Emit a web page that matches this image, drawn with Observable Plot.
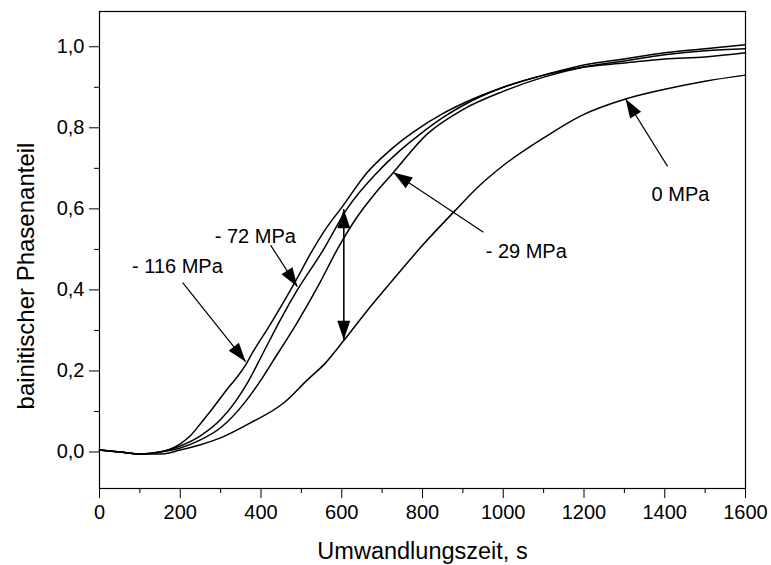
<!DOCTYPE html>
<html>
<head>
<meta charset="utf-8">
<script src="https://cdn.jsdelivr.net/npm/d3@7"></script>
<script src="https://cdn.jsdelivr.net/npm/@observablehq/plot@0.6"></script>
<style>
  html, body { margin: 0; padding: 0; background: #fff; }
</style>
</head>
<body>
<div id="chart"></div>
<script>
// ---- data ----
const t116 = [0,50,100,150,200,225,250,282,320,341,362,379,420,450,490,523,560,601,663,720,778,850,900,1000,1100,1200,1300,1400,1500,1600];
const v116 = [0.005,0,-0.005,0,0.02,0.04,0.07,0.11,0.16,0.185,0.215,0.245,0.31,0.36,0.43,0.49,0.55,0.605,0.69,0.745,0.79,0.835,0.86,0.9,0.93,0.95,0.96,0.97,0.975,0.985];

const t72 = [0,50,100,150,200,250,300,337,369,403,450,490,552,613,688,740,795,850,900,1000,1100,1200,1300,1400,1500,1600];
const v72 = [0.005,0,-0.005,0,0.015,0.04,0.08,0.125,0.175,0.24,0.33,0.40,0.495,0.6,0.69,0.74,0.785,0.825,0.855,0.9,0.93,0.955,0.97,0.985,0.995,1.005];

const t29 = [0,50,100,150,200,250,300,362,398,430,490,547,589,638,680,728,812,900,1000,1100,1200,1300,1400,1500,1600];
const v29 = [0.005,0,-0.005,0,0.01,0.03,0.06,0.125,0.175,0.225,0.32,0.42,0.50,0.58,0.635,0.69,0.785,0.845,0.89,0.925,0.95,0.965,0.98,0.99,0.995];

const t0 = [0,50,100,150,200,250,300,374,456,515,560,605,660,721,800,880,944,1000,1100,1191,1303,1400,1500,1600];
const v0 = [0.005,0,-0.005,-0.005,0.005,0.018,0.035,0.072,0.121,0.178,0.22,0.275,0.345,0.418,0.51,0.595,0.66,0.707,0.775,0.829,0.871,0.895,0.915,0.93];

// annotations
const annText   = ["- 116 MPa", "- 72 MPa", "- 29 MPa", "0 MPa"];
const annTextT  = [193, 386, 1057, 1439];
const annTextV  = [0.458, 0.532, 0.495, 0.636];
const arrStartT = [206, 424, 951, 1407];
const arrStartV = [0.418, 0.51, 0.542, 0.705];
const arrTipT   = [362, 490, 728, 1303];
const arrTipV   = [0.223, 0.408, 0.69, 0.871];
// vertical double arrow
const dblT = 605;
const dblTop = 0.599;
const dblBottom = 0.277;

// tick values
const xMajor = d3.range(0, 1601, 200);
const xMinor = d3.range(100, 1600, 200);
const yMajor = [0, 0.2, 0.4, 0.6, 0.8, 1.0];
const yMinor = [0.1, 0.3, 0.5, 0.7, 0.9];

// ---- layout ----
const W = 771, H = 565;
const mL = 99, mR = 26, mT = 11, mB = 77;
const xDomain = [0, 1600], yDomain = [-0.09, 1.087];
const kx = (W - mL - mR) / (xDomain[1] - xDomain[0]);
const ky = (H - mT - mB) / (yDomain[1] - yDomain[0]);

const toRows = (ts, vs, name) => ts.map((t, i) => ({t, v: vs[i], s: name}));
const curves = [
  ...toRows(t116, v116, "-116"),
  ...toRows(t72, v72, "-72"),
  ...toRows(t29, v29, "-29"),
  ...toRows(t0, v0, "0")
];

const arrows = annText.map((s, i) => ({
  x1: arrStartT[i], y1: arrStartV[i], x2: arrTipT[i], y2: arrTipV[i]
}));
arrows.push({x1: dblT, y1: dblBottom, x2: dblT, y2: dblTop});
arrows.push({x1: dblT, y1: dblTop, x2: dblT, y2: dblBottom});
const heads = arrows.map(a => {
  const sdx = (a.x2 - a.x1) * kx;
  const sdy = -(a.y2 - a.y1) * ky;
  return {x: a.x2, y: a.y2, r: Math.atan2(sdx, -sdy) * 180 / Math.PI};
});
const headSymbol = {
  draw(ctx) {
    ctx.moveTo(0, 0);
    ctx.lineTo(-6.5, 19);
    ctx.lineTo(6.5, 19);
    ctx.closePath();
  }
};
const labels = annText.map((s, i) => ({s, x: annTextT[i], y: annTextV[i]}));

const fmt = d => d3.format(".1f")(d).replace(".", ",");

const chart = Plot.plot({
  width: W, height: H,
  marginLeft: mL, marginRight: mR, marginTop: mT, marginBottom: mB,
  x: {domain: xDomain},
  y: {domain: yDomain},
  style: {fontFamily: "'Liberation Sans', Arial, sans-serif", fontSize: "20px", background: "#fff", color: "#000"},
  marks: [
    Plot.axisX(xMajor, {tickSize: 10, tickPadding: 6, tickFormat: d => String(d), label: null, fontSize: 20}),
    Plot.axisX(xMinor, {tickSize: 5, tickFormat: () => "", label: null}),
    Plot.axisY(yMajor, {tickSize: 10, tickPadding: 5, tickFormat: fmt, label: null, fontSize: 20}),
    Plot.axisY(yMinor, {tickSize: 5, tickFormat: () => "", label: null}),
    Plot.line(curves, {x: "t", y: "v", z: "s", stroke: "#000", strokeWidth: 1.5, curve: "monotone-x"}),
    Plot.link(arrows, {x1: "x1", y1: "y1", x2: "x2", y2: "y2", stroke: "#000", strokeWidth: 1.2}),
    Plot.dot(heads, {x: "x", y: "y", rotate: "r", symbol: headSymbol, fill: "#000", stroke: "none"}),
    Plot.text(labels, {x: "x", y: "y", text: "s", fontSize: 20, fill: "#000"}),
    Plot.frame({stroke: "#000", strokeWidth: 1.2}),
    Plot.text(["Umwandlungszeit, s"], {frameAnchor: "bottom", lineAnchor: "middle", textAnchor: "middle", dy: 63, fontSize: 23.5, fill: "#000"}),
    Plot.text(["bainitischer Phasenanteil"], {frameAnchor: "left", textAnchor: "middle", lineAnchor: "middle", dx: -73, dy: 26, rotate: -90, fontSize: 24, fill: "#000"})
  ]
});
document.getElementById("chart").appendChild(chart);
</script>
</body>
</html>
